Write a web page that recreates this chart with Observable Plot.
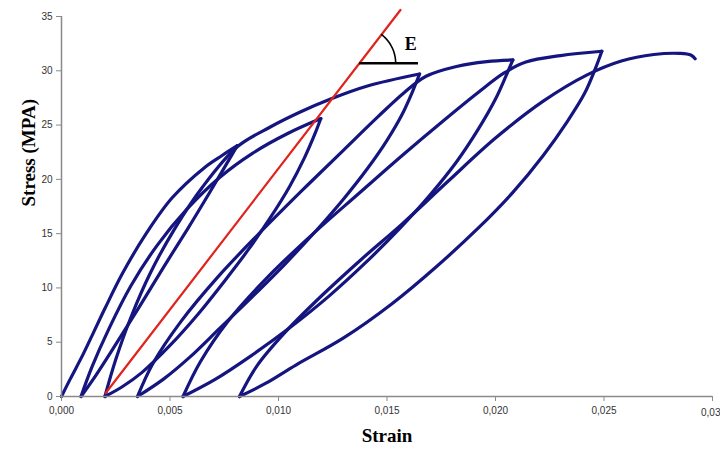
<!DOCTYPE html>
<html><head><meta charset="utf-8">
<script src="https://cdn.jsdelivr.net/npm/d3@7"></script>
<script src="https://cdn.jsdelivr.net/npm/@observablehq/plot@0.6"></script>
<style>
html,body{margin:0;padding:0;background:#fff;}
#chart svg{display:block;}
</style></head><body><div id="chart"></div>
<script>
// ---- tick values / labels ----
const xTicks = [0, 0.005, 0.010, 0.015, 0.020, 0.025, 0.030];
const xTickLabels = ["0,000", "0,005", "0,010", "0,015", "0,020", "0,025", "0,03"];
const yTicks = [0, 5, 10, 15, 20, 25, 30, 35];

// ---- stress-strain record, cut into loading / unloading branches [strain, stress(MPa)] ----
const virginLoad = [[0,0],[0.0004,1.6],[0.001,3.9],[0.0015,6.0],[0.002,8.1],[0.0028,11.3],[0.0039,15.0],[0.0051,18.3],[0.0066,21.1],[0.0074,22.2],[0.0081,23.1]];
const unload1 = [[0.0081,23.1],[0.0076,21.4],[0.0068,18.7],[0.0058,15.4],[0.0047,11.9],[0.0036,8.3],[0.0025,4.8],[0.0016,2.0],[0.0009,0]];
const reload1 = [[0.0009,0],[0.0014,2.7],[0.0022,6.3],[0.0032,10.2],[0.0044,13.9],[0.0058,17.3],[0.0073,20.2],[0.0088,22.4],[0.0104,24.2],[0.01195,25.6]];
const unload2 = [[0.01195,25.6],[0.0117,24.3],[0.0112,22.0],[0.0105,19.3],[0.0096,16.4],[0.0086,13.5],[0.0075,10.6],[0.0063,7.6],[0.0050,4.7],[0.0037,2.2],[0.0028,0.9],[0.002,0]];
const reload2 = [[0.002,0],[0.0025,3.4],[0.0032,7.3],[0.0041,11.4],[0.0052,15.4],[0.0065,19.3],[0.0081,23.0],[0.0096,24.8],[0.0110,26.2],[0.0124,27.4],[0.0141,28.6],[0.0165,29.7]];
const unload3 = [[0.0165,29.7],[0.0162,28.2],[0.0157,26.0],[0.0150,23.6],[0.0141,21.0],[0.0130,18.2],[0.0117,15.2],[0.0103,12.2],[0.0088,9.2],[0.0073,6.3],[0.0059,3.6],[0.0047,1.6],[0.0035,0]];
const reload3 = [[0.0035,0],[0.0042,3.0],[0.0055,6.9],[0.0072,11.0],[0.0091,15.0],[0.0111,19.0],[0.0130,22.7],[0.0146,25.8],[0.0158,28.0],[0.0168,29.5],[0.0182,30.4],[0.0196,30.85],[0.0208,31.0]];
const unload4 = [[0.0208,31.0],[0.0205,29.6],[0.0200,27.4],[0.0192,24.6],[0.0182,21.6],[0.0170,18.6],[0.0156,15.5],[0.0140,12.3],[0.0123,9.2],[0.0105,6.3],[0.0087,3.7],[0.0071,1.6],[0.0056,0]];
const reload4 = [[0.0056,0],[0.0064,3.2],[0.0077,7.0],[0.0095,11.0],[0.0116,15.0],[0.0137,18.7],[0.0157,22.2],[0.0176,25.4],[0.0192,28.0],[0.0204,29.8],[0.0214,30.8],[0.0230,31.4],[0.0249,31.8]];
const unload5 = [[0.0249,31.8],[0.0246,30.2],[0.0241,27.9],[0.0233,25.3],[0.0222,22.2],[0.0208,18.8],[0.0192,15.5],[0.0173,12.0],[0.0152,8.5],[0.0130,5.4],[0.0108,2.9],[0.0094,1.2],[0.0082,0]];
const finalLoad = [[0.0082,0],[0.0090,2.8],[0.0103,5.9],[0.0120,9.3],[0.0138,12.6],[0.0157,15.9],[0.0178,19.8],[0.0200,23.8],[0.0222,27.2],[0.0242,29.6],[0.0258,30.9],[0.0273,31.5],[0.0285,31.6],[0.0290,31.45],[0.0292,31.1]];

// ---- modulus line (red) and the angle annotation ----
const modulusLine = [[0.00203,0.3],[0.01562,35.6]];
const angleBase = {strain1: 0.01374, strain2: 0.01645, stress: 30.7};
const angleLabel = {strain: 0.0161, stress: 32.4, text: "E"};

// ---- layout ----
const W = 720, H = 453, mL = 61, mR = 8, mT = 16, mB = 57;
const xDomain = [0, 0.03], yDomain = [0, 35];

const branches = [virginLoad, unload1, reload1, unload2, reload2, unload3, reload3, unload4, reload4, unload5, finalLoad];
const curve = branches.flatMap((b, k) => b.map(([strain, stress]) => ({strain, stress, branch: k})));
const red = modulusLine.map(([strain, stress]) => ({strain, stress}));

// arc of the angle marker: circular in screen space, radius in px
const kx = (xDomain[1] - xDomain[0]) / (W - mL - mR);
const ky = (yDomain[1] - yDomain[0]) / (H - mT - mB);
const slopePx = Math.atan2((modulusLine[1][1] - modulusLine[0][1]) / ky, (modulusLine[1][0] - modulusLine[0][0]) / kx);
const arcR = 36;
const arc = d3.range(0, 41).map(i => {
  const t = slopePx * i / 40;
  return {strain: angleBase.strain1 + arcR * Math.cos(t) * kx, stress: angleBase.stress + arcR * Math.sin(t) * ky};
});

const last = xTicks.length - 1;
const serif = "'Liberation Serif', 'Times New Roman', serif";

const chart = Plot.plot({
  width: W, height: H,
  marginLeft: mL, marginRight: mR, marginTop: mT, marginBottom: mB,
  style: {background: "#fff", fontFamily: "'Liberation Sans', Arial, sans-serif"},
  x: {domain: xDomain},
  y: {domain: yDomain},
  marks: [
    Plot.line(curve, {x: "strain", y: "stress", z: "branch", curve: "catmull-rom", stroke: "#15157f", strokeWidth: 3.2, strokeLinejoin: "round"}),
    Plot.line(red, {x: "strain", y: "stress", stroke: "#e0231c", strokeWidth: 2.2}),
    Plot.ruleY([angleBase.stress], {x1: angleBase.strain1, x2: angleBase.strain2, stroke: "#000", strokeWidth: 2.6}),
    Plot.line(arc, {x: "strain", y: "stress", stroke: "#000", strokeWidth: 1.6}),
    Plot.text([angleLabel], {x: "strain", y: "stress", text: "text", fontSize: 18, fontWeight: "bold", fontFamily: serif, fill: "#000"}),
    Plot.ruleX([0], {y1: 0, y2: 35, stroke: "#8a8a8a", strokeWidth: 1.5}),
    Plot.ruleY([0], {stroke: "#8a8a8a", strokeWidth: 1.5}),
    Plot.axisX({ticks: xTicks, tickFormat: (d, i) => i === last ? "" : xTickLabels[i], tickSize: 5, tickPadding: 5, stroke: "#8a8a8a", fill: "#333", fontSize: 10, label: null}),
    Plot.text([xTicks[last]], {x: d => d, y: 0, text: () => xTickLabels[last], textAnchor: "end", dx: 8, dy: 16, fontSize: 10, fill: "#333"}),
    Plot.axisY({ticks: yTicks, tickSize: 5, tickPadding: 4, stroke: "#8a8a8a", fill: "#333", fontSize: 10, label: null}),
    Plot.text(["Strain"], {frameAnchor: "bottom", dy: 45, fontSize: 19, fontWeight: "bold", fontFamily: serif, fill: "#000"}),
    Plot.text(["Stress (MPA)"], {frameAnchor: "left", dx: -33, rotate: -90, fontSize: 19, fontWeight: "bold", fontFamily: serif, fill: "#000"})
  ]
});
document.getElementById("chart").append(chart);
</script>
</body></html>
